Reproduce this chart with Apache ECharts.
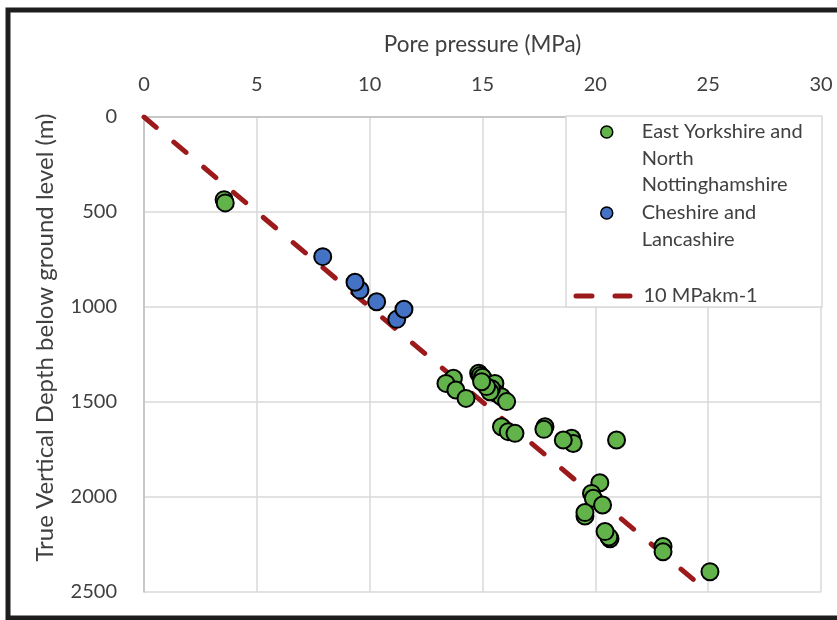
<!DOCTYPE html>
<html>
<head>
<meta charset="utf-8">
<script src="https://cdn.jsdelivr.net/npm/echarts@6/dist/echarts.min.js"></script>
<style>
html,body{margin:0;padding:0;background:#fff;}
#chart{width:837px;height:620px;}
</style>
</head>
<body>
<div id="chart"></div>
<script>
// Data
const greenName = 'East Yorkshire and North Nottinghamshire';
const blueName = 'Cheshire and Lancashire';
const lineName = '10 MPakm-1';

const greenX = [3.55, 3.6, 13.71, 13.38, 13.82, 14.27, 14.83, 14.9, 15.0, 15.55, 15.62, 15.84, 16.07, 15.4, 15.33, 15.18, 14.96, 15.84, 16.14, 16.44, 17.77, 17.72, 18.95, 19.02, 18.58, 20.94, 20.2, 19.83, 19.91, 20.32, 19.54, 19.54, 20.65, 20.6, 20.43, 23.0, 23.0, 25.08];
const greenY = [435, 452, 1375, 1402, 1437, 1481, 1349, 1360, 1370, 1402, 1455, 1472, 1498, 1430, 1446, 1419, 1393, 1630, 1656, 1665, 1630, 1644, 1691, 1718, 1700, 1700, 1925, 1981, 2007, 2042, 2100, 2082, 2220, 2210, 2182, 2261, 2288, 2393];

const blueX = [7.92, 9.57, 9.35, 10.31, 11.20, 11.52];
const blueY = [735, 911, 870, 972, 1065, 1012];

const lineX = [0, 25];
const lineY = [0, 2500];

const xTicks = [0, 5, 10, 15, 20, 25, 30];
const yTicks = [0, 500, 1000, 1500, 2000, 2500];

// leading blank lines keep the legend marker level with the first text line
const legendLabels = {};
legendLabels[greenName] = '\n\nEast Yorkshire and\nNorth\nNottinghamshire';
legendLabels[blueName] = '\nCheshire and\nLancashire';
legendLabels[lineName] = '10 MPakm-1';

const zip = (xs, ys) => xs.map((x, i) => [x, ys[i]]);

const FONT = 'Lato';
const TXT = '#404040';
const LH = 26.5;

const chart = echarts.init(document.getElementById('chart'), null, {renderer: 'canvas'});
const scatterLegend = (name, top) => ({
  z: 6,
  orient: 'vertical', left: 600, top: top, padding: 0,
  itemWidth: 12, itemHeight: 12,
  icon: 'circle',
  itemStyle: {borderColor: '#000', borderWidth: 1.5},
  textStyle: {fontFamily: FONT, fontSize: 20, color: TXT, lineHeight: LH, padding: [0, 0, 0, 24]},
  formatter: n => legendLabels[n],
  selectedMode: false,
  data: [name]
});
chart.setOption({
  animation: false,
  backgroundColor: '#ffffff',
  textStyle: {fontFamily: FONT},
  grid: {left: 144, top: 117, right: 16, bottom: 28, containLabel: false},
  xAxis: {
    type: 'value', position: 'top',
    min: xTicks[0], max: xTicks[xTicks.length - 1], interval: 5,
    name: 'Pore pressure (MPa)', nameLocation: 'middle', nameGap: 61,
    nameTextStyle: {fontFamily: FONT, fontSize: 22.5, color: TXT},
    axisLine: {show: true, lineStyle: {color: '#bfbfbf', width: 1.5}},
    axisTick: {show: false},
    axisLabel: {fontFamily: FONT, fontSize: 20, color: TXT, margin: 22},
    splitLine: {show: true, lineStyle: {color: '#d9d9d9', width: 1.5}}
  },
  yAxis: {
    type: 'value', inverse: true,
    min: yTicks[0], max: yTicks[yTicks.length - 1], interval: 500,
    name: 'True Vertical Depth below ground level (m)', nameLocation: 'middle', nameGap: 87, nameRotate: 90,
    nameTextStyle: {fontFamily: FONT, fontSize: 24, color: TXT, padding: [0, 0, 0, 34]},
    axisLine: {show: true, lineStyle: {color: '#bfbfbf', width: 1.5}},
    axisTick: {show: false},
    axisLabel: {fontFamily: FONT, fontSize: 20, color: TXT, margin: 27, formatter: v => String(v)},
    splitLine: {show: true, lineStyle: {color: '#d9d9d9', width: 1.5}}
  },
  legend: [
    scatterLegend(greenName, 132 - 2.5 * LH),
    scatterLegend(blueName, 213 - 1.5 * LH),
    {
      z: 6,
      orient: 'vertical', left: 573.5, top: 296 - LH / 2, padding: 0,
      itemWidth: 54, itemHeight: 14,
      lineStyle: {width: 5},
      itemStyle: {opacity: 0},
      textStyle: {fontFamily: FONT, fontSize: 20, color: TXT, lineHeight: LH, padding: [0, 0, 0, 8.5]},
      formatter: n => legendLabels[n],
      selectedMode: false,
      data: [lineName]
    }
  ],
  graphic: [
    {type: 'rect', z: 5, silent: true,
     shape: {x: 566, y: 116, width: 256, height: 191},
     style: {fill: '#ffffff', stroke: '#d9d9d9', lineWidth: 1.5}},
    {type: 'rect', z: 10, silent: true,
     shape: {x: 8, y: 10, width: 900, height: 608},
     style: {fill: 'none', stroke: '#1e1e1e', lineWidth: 5}}
  ],
  series: [
    {
      name: lineName, type: 'line', z: 1,
      data: zip(lineX, lineY),
      symbol: 'none',
      lineStyle: {color: '#9c1a1c', width: 5, type: [16, 23], cap: 'round'},
      itemStyle: {color: '#9c1a1c'}
    },
    {
      name: greenName, type: 'scatter', z: 3,
      data: zip(greenX, greenY),
      symbol: 'circle', symbolSize: 17,
      itemStyle: {color: '#62b34a', borderColor: '#000000', borderWidth: 2, opacity: 1}
    },
    {
      name: blueName, type: 'scatter', z: 3,
      data: zip(blueX, blueY),
      symbol: 'circle', symbolSize: 17,
      itemStyle: {color: '#4472c4', borderColor: '#000000', borderWidth: 2, opacity: 1}
    }
  ]
});
</script>
</body>
</html>
